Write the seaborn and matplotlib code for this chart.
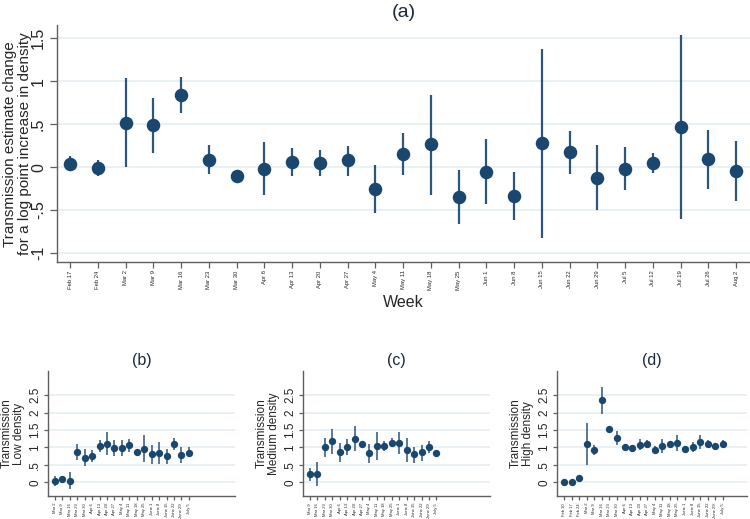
import numpy as np
import pandas as pd
import matplotlib
matplotlib.use("Agg")
import matplotlib.pyplot as plt
import seaborn as sns

# ---------------- data ----------------
weeks_a = ["Feb 17", "Feb 24", "Mar 2", "Mar 9", "Mar 16", "Mar 23", "Mar 30", "Apr 6",
           "Apr 13", "Apr 20", "Apr 27", "May 4", "May 11", "May 18", "May 25", "Jun 1",
           "Jun 8", "Jun 15", "Jun 22", "Jun 29", "Jul 5", "Jul 12", "Jul 19", "Jul 26", "Aug 2"]
est_a = [0.04, -0.01, 0.515, 0.49, 0.845, 0.085, -0.10, -0.02, 0.06, 0.05, 0.08, -0.25,
         0.15, 0.27, -0.345, -0.055, -0.335, 0.28, 0.175, -0.125, -0.02, 0.045, 0.47, 0.09, -0.045]
lo_a = [-0.05, -0.10, 0.0, 0.17, 0.635, -0.08, -0.15, -0.33, -0.10, -0.10, -0.10, -0.535,
        -0.09, -0.32, -0.66, -0.435, -0.615, -0.82, -0.075, -0.505, -0.265, -0.065, -0.60, -0.25, -0.395]
hi_a = [0.13, 0.08, 1.04, 0.81, 1.05, 0.255, -0.04, 0.29, 0.22, 0.20, 0.25, 0.03,
        0.395, 0.845, -0.03, 0.33, -0.055, 1.38, 0.425, 0.255, 0.23, 0.16, 1.54, 0.435, 0.305]

weeks_b = ["Mar 2", "Mar 9", "Mar 16", "Mar 23", "Mar 30", "Apr 6", "Apr 13", "Apr 20", "Apr 27",
           "May 4", "May 11", "May 18", "May 25", "June 1", "June 8", "June 15", "June 22",
           "June 29", "July 5"]
est_b = [0.04, 0.09, 0.05, 0.87, 0.70, 0.75, 1.04, 1.11, 0.98, 0.98, 1.06, 0.87, 0.97,
         0.80, 0.84, 0.75, 1.11, 0.78, 0.85]
lo_b = [-0.11, 0.04, -0.19, 0.63, 0.46, 0.57, 0.87, 0.79, 0.75, 0.75, 0.88, 0.80, 0.58,
        0.52, 0.52, 0.52, 0.94, 0.56, 0.72]
hi_b = [0.17, 0.13, 0.29, 1.11, 0.96, 0.94, 1.21, 1.44, 1.20, 1.20, 1.23, 0.94, 1.35,
        1.08, 1.15, 0.97, 1.28, 1.00, 1.00]

weeks_c = ["Mar 9", "Mar 16", "Mar 23", "Mar 30", "Apr 6", "Apr 13", "Apr 20", "Apr 27",
           "May 4", "May 11", "May 18", "May 25", "June 1", "June 8", "June 15", "June 22",
           "June 29", "July 5"]
est_c = [0.23, 0.23, 1.02, 1.18, 0.86, 1.00, 1.25, 1.11, 0.83, 1.05, 1.04, 1.14, 1.13,
         0.94, 0.80, 0.86, 1.02, 0.84]
lo_c = [0.04, -0.10, 0.73, 0.82, 0.58, 0.77, 0.90, 1.06, 0.56, 0.65, 0.90, 1.02, 0.80,
        0.58, 0.56, 0.62, 0.84, 0.80]
hi_c = [0.42, 0.58, 1.28, 1.54, 1.13, 1.23, 1.61, 1.16, 1.10, 1.44, 1.18, 1.26, 1.44,
        1.28, 1.02, 1.08, 1.19, 0.89]

weeks_d = ["Feb 10", "Feb 17", "Feb 24", "Mar 2", "Mar 9", "Mar 16", "Mar 23", "Mar 30",
           "Apr 6", "Apr 13", "Apr 20", "Apr 27", "May 4", "May 11", "May 18", "May 25",
           "June 1", "June 8", "June 15", "June 22", "June 29", "July 5"]
est_d = [0.0, 0.0, 0.115, 1.11, 0.94, 2.35, 1.53, 1.27, 1.02, 0.99, 1.08, 1.10, 0.94,
         1.04, 1.09, 1.13, 0.97, 1.02, 1.15, 1.10, 1.03, 1.09]
lo_d = [-0.02, -0.02, 0.05, 0.51, 0.78, 1.97, 1.47, 1.08, 0.96, 0.90, 0.92, 1.00, 0.82,
        0.85, 1.01, 0.90, 0.90, 0.88, 0.95, 1.00, 0.96, 0.98]
hi_d = [0.02, 0.02, 0.18, 1.70, 1.08, 2.74, 1.59, 1.48, 1.09, 1.06, 1.23, 1.21, 1.05,
        1.23, 1.17, 1.35, 1.03, 1.15, 1.35, 1.21, 1.11, 1.21]

# ---------------- style ----------------
sns.set_style("white")
plt.rcParams["font.family"] = ["Liberation Sans", "DejaVu Sans"]

NAVY = "#1a476f"
GRID = "#e6eff2"
SPINE = "#5f5f5f"

W, H = 750, 519
fig = plt.figure(figsize=(W / 100, H / 100), dpi=100)


def px_axes(left, top, right, bottom):
    return fig.add_axes([left / W, 1 - bottom / H, (right - left) / W, (bottom - top) / H])


def fmt(v):
    s = ("%g" % v)
    if s.startswith("0."):
        s = s[1:]
    elif s.startswith("-0."):
        s = "-" + s[2:]
    return s


def draw(ax, weeks, est, lo, hi, yticks, ylim, xlim, msize, lw, xfs, yfs):
    df = pd.DataFrame({"x": np.arange(len(weeks)), "est": est, "lo": lo, "hi": hi})
    ax.vlines(df["x"], df["lo"], df["hi"], color=NAVY, lw=lw, alpha=0.92, zorder=2)
    sns.scatterplot(data=df, x="x", y="est", ax=ax, s=msize, color=NAVY,
                    edgecolor=NAVY, linewidth=0, zorder=3, legend=False)
    ax.set_xlim(*xlim)
    ax.set_ylim(*ylim)
    ax.set_yticks(yticks)
    ax.set_yticklabels([fmt(v) for v in yticks], rotation=90, va="center", fontsize=yfs)
    ax.set_xticks(df["x"])
    ax.set_xticklabels(weeks, rotation=90, fontsize=xfs)
    ax.yaxis.grid(True, color=GRID, lw=1.2)
    ax.xaxis.grid(False)
    ax.set_axisbelow(True)
    for s in ["top", "right"]:
        ax.spines[s].set_visible(False)
    for s in ["left", "bottom"]:
        ax.spines[s].set_color(SPINE)
        ax.spines[s].set_linewidth(1.0)
    ax.tick_params(axis="both", direction="out", length=4, width=0.9, color=SPINE,
                   bottom=True, left=True, pad=2)
    ax.set_xlabel("")
    ax.set_ylabel("")


# ---- panel (a)
axa = px_axes(57, 25, 750, 262)
draw(axa, weeks_a, est_a, lo_a, hi_a, [-1, -0.5, 0, 0.5, 1, 1.5], (-1.105, 1.655),
     (-0.47, 24.5), 95, 1.6, 4.2, 11.5)
axa.tick_params(axis="y", length=5, pad=3)
fig.text(17.5 / W, 1 - 144 / H,
         "Transmission estimate change\nfor a log point increase in density",
         rotation=90, ha="center", va="center", fontsize=11, linespacing=1.05)
axa.set_xlabel("Week", fontsize=11.5, labelpad=4)
axa.set_title("(a)", fontsize=14, color="#1a2a3a", pad=6)

# ---- panels (b), (c), (d)
ylim_s = (-0.39, 3.19)
yt_s = [0, 0.5, 1, 1.5, 2, 2.5]
xlim_s = (-0.93, 24.2)
small = [
    ((48, 371, 235, 496), weeks_b, est_b, lo_b, hi_b, "Transmission\nLow density", "(b)"),
    ((303, 371, 490, 496), weeks_c, est_c, lo_c, hi_c, "Transmission\nMedium density", "(c)"),
    ((557, 371, 747, 496), weeks_d, est_d, lo_d, hi_d, "Transmission\nHigh density", "(d)"),
]
for box, wk, e, l, h, ylab, title in small:
    ax = px_axes(*box)
    draw(ax, wk, e, l, h, yt_s, ylim_s, xlim_s, 28, 1.1, 3.0, 8.5)
    ax.tick_params(axis="both", length=3, pad=2)
    ax.set_ylabel(ylab, fontsize=8.5, linespacing=1.0, labelpad=3)
    ax.set_title(title, fontsize=11.5, color="#1a2a3a", pad=4)

fig.savefig("out.png", dpi=100)
